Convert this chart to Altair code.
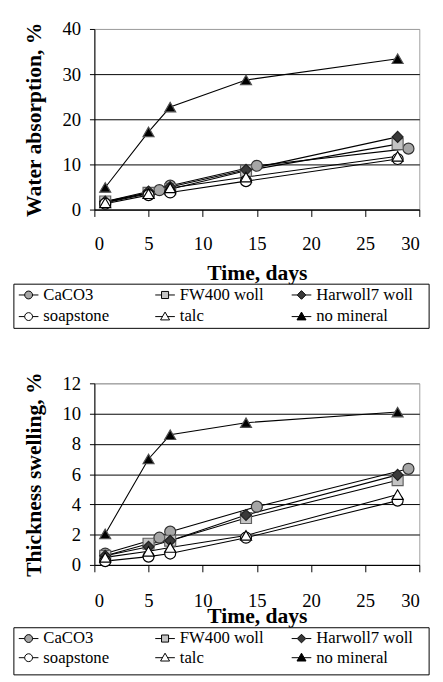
import altair as alt
import pandas as pd

series_names = ["CaCO3", "FW400 woll", "Harwoll7 woll", "soapstone", "talc", "no mineral"]
legend_cols = [0, 1, 2, 0, 1, 2]
legend_rows = [0, 0, 0, 1, 1, 1]
days = [1, 5, 7, 14, 28]
days_caco3 = [1, 6, 7, 15, 29]

# Water absorption, %
wa_caco3 = [1.6, 4.3, 5.3, 9.7, 13.5]
wa_fw400 = [1.8, 3.7, 4.5, 8.6, 14.5]
wa_harwoll = [1.8, 4.0, 5.0, 8.8, 16.1]
wa_soapstone = [1.3, 3.2, 3.8, 6.3, 11.2]
wa_talc = [1.5, 3.5, 4.8, 7.2, 11.8]
wa_nomineral = [4.9, 17.2, 22.7, 28.7, 33.4]

# Thickness swelling, %
ts_caco3 = [0.75, 1.8, 2.2, 3.85, 6.35]
ts_fw400 = [0.6, 1.4, 1.6, 3.1, 5.6]
ts_harwoll = [0.6, 1.2, 1.6, 3.3, 5.95]
ts_soapstone = [0.25, 0.55, 0.75, 1.8, 4.25]
ts_talc = [0.5, 0.9, 1.15, 1.95, 4.65]
ts_nomineral = [2.05, 7.0, 8.6, 9.4, 10.1]

x_ticks = [0, 5, 10, 15, 20, 25, 30]
wa_ticks = [0, 10, 20, 30, 40]
ts_ticks = [0, 2, 4, 6, 8, 10, 12]

marker_shapes = ["circle", "square", "diamond", "circle", "triangle-up", "triangle-up"]
marker_fills = ["#a6a6a6", "#c4c4c4", "#3a3a3a", "#ffffff", "#ffffff", "#000000"]
marker_strokes = ["#303030", "#606060", "#202020", "#000000", "#000000", "#505050"]
legend_paths = [
    "M-2.5,0H-1M1,0H2.5M-1,0A1,1,0,1,0,1,0A1,1,0,1,0,-1,0Z",
    "M-2.5,0H-0.9M0.9,0H2.5M-0.9,-0.9H0.9V0.9H-0.9Z",
    "M-2.5,0H-1.1M1.1,0H2.5M0,-1.1L1.1,0L0,1.1L-1.1,0Z",
    "M-2.5,0H-1M1,0H2.5M-1,0A1,1,0,1,0,1,0A1,1,0,1,0,-1,0Z",
    "M-2.5,0H-0.62M0.62,0H2.5M0,-1.15L1.15,0.85L-1.15,0.85Z",
    "M-2.5,0H-0.62M0.62,0H2.5M0,-1.15L1.15,0.85L-1.15,0.85Z",
]

FONT = "Liberation Serif"


def build_df(values_by_series):
    rows = []
    for name, vals in zip(series_names, values_by_series):
        xs = days_caco3 if name == "CaCO3" else days
        for d, v in zip(xs, vals):
            rows.append({"series": name, "day": d, "value": v})
    return pd.DataFrame(rows)


legend_df = pd.DataFrame({"series": series_names, "col": legend_cols, "row": legend_rows})


def panel(df, ytitle, yticks, xlabel_pad, xtitle_pad, height, box_top, box_bottom, row_y):
    ymax = yticks[-1]
    x = alt.X(
        "day:Q",
        scale=alt.Scale(domain=[0, 30], nice=False),
        axis=alt.Axis(
            values=x_ticks, title="Time, days", grid=False, tickSize=7,
            labelPadding=xlabel_pad, titlePadding=xtitle_pad,
        ),
    )
    y = alt.Y(
        "value:Q",
        scale=alt.Scale(domain=[0, ymax], nice=False),
        axis=alt.Axis(
            values=yticks, title=ytitle, grid=True, tickSize=5, labelPadding=9,
            titlePadding=17,
            gridColor=alt.condition(f"datum.value == {ymax}", alt.value("#a0a0a0"), alt.value("#000000")),
        ),
    )
    base = alt.Chart(df).encode(x=x, y=y)
    lines = base.mark_line(color="black", strokeWidth=1.1).encode(detail="series:N")
    points = base.mark_point(filled=True, size=125, strokeWidth=1.2, opacity=1).encode(
        shape=alt.Shape("series:N", scale=alt.Scale(domain=series_names, range=marker_shapes), legend=None),
        fill=alt.Fill("series:N", scale=alt.Scale(domain=series_names, range=marker_fills), legend=None),
        stroke=alt.Stroke("series:N", scale=alt.Scale(domain=series_names, range=marker_strokes), legend=None),
    )
    main = alt.layer(lines, points)

    # boxed legend below the axis title
    lx = alt.X("col:Q", scale=alt.Scale(domain=[0, 2], range=[-67, 211]), axis=None)
    ly = alt.Y("row:Q", scale=alt.Scale(domain=[0, 1], range=row_y), axis=None)
    leg_base = alt.Chart(legend_df).encode(x=lx, y=ly)
    box = alt.Chart(legend_df).transform_filter("datum.col == 0 && datum.row == 0").mark_rect(
        fill="white", stroke="black", strokeWidth=1, clip=False
    ).encode(
        x=alt.value(-82), x2=alt.value(341), y=alt.value(box_top), y2=alt.value(box_bottom)
    )
    syms = leg_base.mark_point(filled=True, size=64, stroke="black", strokeWidth=1, opacity=1, clip=False).encode(
        shape=alt.Shape("series:N", scale=alt.Scale(domain=series_names, range=legend_paths), legend=None),
        fill=alt.Fill("series:N", scale=alt.Scale(domain=series_names, range=marker_fills), legend=None),
    )
    texts = leg_base.mark_text(
        align="left", baseline="middle", dx=15, font=FONT, fontSize=17, color="black", clip=False
    ).encode(text="series:N")
    legend = alt.layer(box, syms, texts)

    return alt.layer(main, legend).resolve_scale(
        x="independent", y="independent", shape="independent", fill="independent"
    ).properties(width=331, height=height)


df_wa = build_df([wa_caco3, wa_fw400, wa_harwoll, wa_soapstone, wa_talc, wa_nomineral])
df_ts = build_df([ts_caco3, ts_fw400, ts_harwoll, ts_soapstone, ts_talc, ts_nomineral])

top = panel(df_wa, "Water absorption, %", wa_ticks, 19, 9, 184, 260, 305, [271, 293])
bottom = panel(df_ts, "Thickness swelling, %", ts_ticks, 20, -4, 185, 249, 297, [260, 279.5])

chart = alt.vconcat(top, bottom, spacing=42, background="white").configure_view(
    stroke="#a0a0a0", strokeWidth=1
).configure_axis(
    labelFont=FONT, labelFontSize=19, labelColor="black",
    titleFont=FONT, titleFontSize=22, titleFontWeight="bold", titleColor="black",
    domainColor="black", tickColor="black", domainWidth=1, gridWidth=1,
)

chart.save("out.html", embed_options={"renderer": "svg", "actions": False})
